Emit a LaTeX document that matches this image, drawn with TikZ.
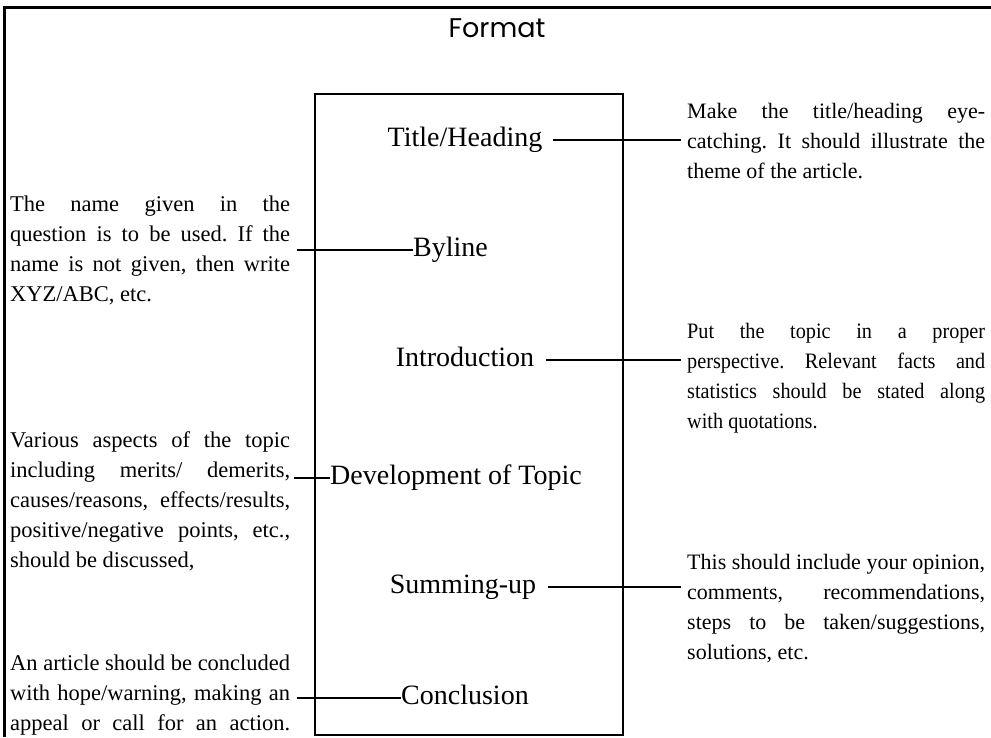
\documentclass[tikz,border=0pt]{standalone}
\usepackage{fontspec}
\setmainfont{Liberation Serif}
\newfontfamily\headfont{Poppins}
\newfontfamily\narrowfont[FakeStretch=0.92]{Liberation Serif}
\usetikzlibrary{calc}
\frenchspacing

\newcommand{\lrow}[1]{\makebox[280pt][s]{#1}}
\newcommand{\rrow}[1]{\makebox[298pt][s]{#1}}

\begin{document}
\begin{tikzpicture}[x=1pt,y=-1pt,
    partlabel/.style={inner sep=0pt,text height=13pt,text depth=0pt,font=\fontsize{28}{30}\selectfont},
    leftnote/.style={inner sep=0pt,align=left,anchor=base west,font=\fontsize{22.5}{30}\selectfont},
    rightnote/.style={inner sep=0pt,align=left,anchor=base west,font=\fontsize{22}{30}\selectfont},
    link/.style={black,line width=1.4pt}]
                \useasboundingbox (0,0) rectangle (991,737);
                \draw [black,line width=3pt] (4,737) -- (4,7) -- (991,7);
                \node [font=\headfont\fontsize{27}{30}\selectfont] (format) at (497,28) {Format};
                \draw [black,line width=1.4pt] (315,94) rectangle (623,735);
                % parts inside the box
                \node [partlabel] (heading) at (465,140) {Title/Heading};
                \node [partlabel,anchor=west] (byline) at (413,250) {Byline};
                \node [partlabel] (intro) at (465,360) {Introduction};
                \node [partlabel,anchor=west] (devel) at (330,478) {Development of Topic};
                \node [partlabel] (summing) at (463,587) {Summing-up};
                \node [partlabel,anchor=west] (concl) at (401,698) {Conclusion};
                % notes (base = last line)
                \node [rightnote] (headingnote) at (687,178) {\rrow{Make the title/heading eye-}\\
                    \rrow{catching. It should illustrate the}\\
                    theme of the article.};
                \node [leftnote] (bylinenote) at (10,301) {\lrow{The name given in the}\\
                    \lrow{question is to be used. If the}\\
                    \lrow{name is not given, then write}\\
                    XYZ/ABC, etc.};
                \node [rightnote,font=\narrowfont\fontsize{22}{30}\selectfont] (intronote) at (687,428) {\rrow{Put the topic in a proper}\\
                    \rrow{perspective. Relevant facts and}\\
                    \rrow{statistics should be stated along}\\
                    with quotations.};
                \node [leftnote] (develnote) at (10,567) {\lrow{Various aspects of the topic}\\
                    \lrow{including merits/ demerits,}\\
                    \lrow{causes/reasons, effects/results,}\\
                    \lrow{positive/negative points, etc.,}\\
                    should be discussed,};
                \node [rightnote] (summingnote) at (687,659) {\rrow{This should include your opinion,}\\
                    \rrow{comments, recommendations,}\\
                    \rrow{steps to be taken/suggestions,}\\
                    solutions, etc.};
                \node [leftnote] (conclnote) at (10,730) {\lrow{An article should be concluded}\\
                    \lrow{with hope/warning, making an}\\
                    \lrow{appeal or call for an action.}};
                % links
                \draw [link] ($(heading.east)+(11,0)$) -- ($(headingnote.west |- heading.east)+(-6,0)$);
                \draw [link] ($(bylinenote.east |- byline.west)+(7,0)$) -- (byline.west);
                \draw [link] ($(intro.east)+(12,0)$) -- ($(intronote.west |- intro.east)+(-6,0)$);
                \draw [link] ($(develnote.east |- devel.west)+(4,0)$) -- (devel.west);
                \draw [link] ($(summing.east)+(12,0)$) -- ($(summingnote.west |- summing.east)+(-6,0)$);
                \draw [link] ($(conclnote.east |- concl.west)+(7,0)$) -- (concl.west);
\end{tikzpicture}
\end{document}
